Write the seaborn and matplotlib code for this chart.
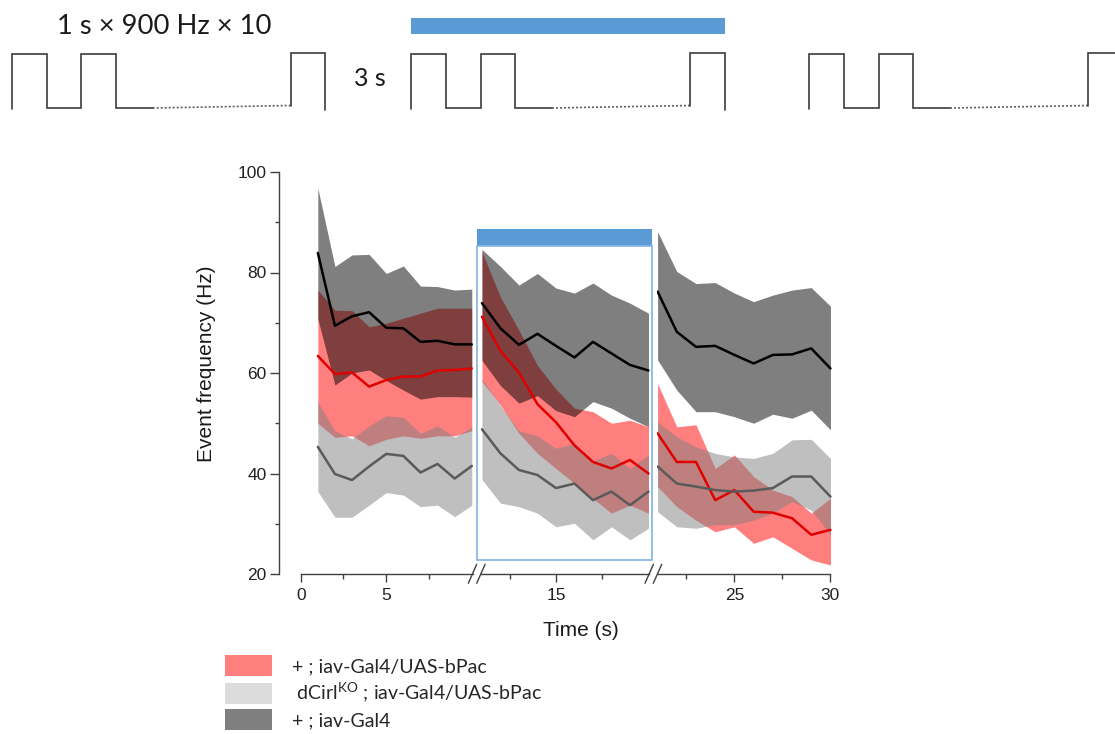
import matplotlib
matplotlib.use("Agg")
import numpy as np
import pandas as pd
import matplotlib.pyplot as plt
import seaborn as sns
from matplotlib.patches import Rectangle, Patch

# ---------------- data ----------------
time = list(range(1, 31))
segment = [0] * 10 + [1] * 10 + [2] * 10

group_names = ["+ ; iav-Gal4/UAS-bPac",
               " dCirl$^{\\mathrm{KO}}$ ; iav-Gal4/UAS-bPac",
               "+ ; iav-Gal4"]

red_mean = [63.4, 59.8, 60.1, 57.3, 58.6, 59.3, 59.3, 60.5, 60.6, 60.9,
            71.2, 64.4, 60.1, 53.8, 50.2, 45.6, 42.3, 41.0, 42.7, 40.0,
            48.0, 42.3, 42.3, 34.7, 36.7, 32.4, 32.2, 31.1, 27.8, 28.8]
red_lo = [50.0, 47.2, 47.5, 45.5, 46.8, 47.5, 47.0, 47.5, 47.5, 48.5,
          58.3, 53.6, 48.0, 44.0, 41.0, 38.0, 35.0, 32.1, 33.7, 32.1,
          37.4, 33.4, 30.7, 28.4, 29.4, 26.1, 27.4, 25.1, 22.8, 21.8]
red_hi = [76.5, 72.5, 72.4, 69.2, 69.9, 70.9, 71.9, 72.9, 72.9, 72.9,
          84.1, 75.1, 68.5, 61.5, 56.8, 53.0, 52.3, 50.0, 50.6, 49.3,
          57.9, 49.3, 49.7, 41.0, 43.7, 39.4, 36.7, 35.4, 32.1, 35.1]

ko_mean = [45.3, 39.9, 38.7, 41.4, 43.9, 43.5, 40.2, 41.9, 39.0, 41.5,
           48.8, 44.0, 40.7, 39.7, 37.1, 38.0, 34.7, 36.4, 33.7, 36.4,
           41.4, 38.0, 37.4, 36.7, 36.4, 36.6, 37.1, 39.4, 39.4, 35.4]
ko_lo = [36.4, 31.3, 31.3, 33.7, 36.2, 35.7, 33.4, 33.7, 31.4, 33.7,
         38.8, 34.1, 33.4, 32.1, 29.4, 30.1, 26.8, 29.4, 26.8, 29.1,
         32.4, 29.4, 29.1, 29.8, 29.8, 30.7, 32.1, 34.4, 32.7, 27.8]
ko_hi = [54.2, 48.5, 46.9, 49.5, 51.5, 51.2, 48.0, 49.5, 47.2, 49.3,
         58.8, 53.5, 48.5, 47.5, 45.0, 46.0, 42.5, 44.0, 41.0, 43.7,
         50.3, 47.3, 45.3, 44.0, 43.3, 43.0, 44.0, 46.7, 46.8, 43.0]

ctl_mean = [83.9, 69.4, 71.3, 72.1, 69.0, 68.9, 66.2, 66.4, 65.7, 65.7,
            73.9, 68.9, 65.6, 67.8, 65.4, 63.1, 66.2, 63.9, 61.6, 60.5,
            76.2, 68.2, 65.2, 65.4, 63.6, 61.9, 63.6, 63.7, 64.9, 60.9]
ctl_lo = [70.8, 57.6, 60.0, 60.6, 58.5, 56.6, 54.8, 55.3, 55.3, 55.2,
          62.5, 57.5, 54.0, 55.5, 52.5, 51.3, 54.3, 53.0, 51.0, 49.3,
          62.6, 56.6, 52.3, 52.3, 51.3, 50.0, 51.8, 51.0, 52.6, 48.7]
ctl_hi = [96.8, 81.2, 83.5, 83.6, 79.8, 81.3, 77.3, 77.2, 76.5, 76.7,
          84.6, 81.2, 77.5, 79.8, 76.9, 75.9, 77.9, 75.5, 73.9, 71.9,
          88.1, 80.2, 77.8, 78.0, 75.9, 74.2, 75.5, 76.5, 77.0, 73.3]

x_major = [[0, 5], [15], [25, 30]]
x_minor = [[2.5, 7.5], [12.5, 17.5], [22.5, 27.5]]
y_major = [20, 40, 60, 80, 100]
y_minor = [30, 50, 70, 90]

frames = []
for name, m, lo, hi in [(group_names[0], red_mean, red_lo, red_hi),
                        (group_names[1], ko_mean, ko_lo, ko_hi),
                        (group_names[2], ctl_mean, ctl_lo, ctl_hi)]:
    frames.append(pd.DataFrame({"time": time, "seg": segment, "group": name,
                                "mean": m, "lo": lo, "hi": hi}))
df = pd.concat(frames, ignore_index=True)

fill_colors = {group_names[0]: "#ff0000", group_names[1]: "#808080", group_names[2]: "#000000"}
line_colors = {group_names[0]: "#e00000", group_names[1]: "#5a5a5a", group_names[2]: "#000000"}
legend_colors = ["#ff7f7f", "#dcdcdc", "#7f7f7f"]

# ---------------- style ----------------
sns.set_style("ticks")
plt.rcParams["font.family"] = ["Liberation Sans", "DejaVu Sans"]
plt.rcParams["mathtext.fontset"] = "custom"
plt.rcParams["mathtext.rm"] = "Lato"
plt.rcParams["mathtext.it"] = "Lato:italic"
plt.rcParams["mathtext.bf"] = "Lato:bold"

W, H = 1115, 734
fig = plt.figure(figsize=(W / 100, H / 100), dpi=100)


def px_axes(x0, x1, y0, y1, **kw):
    return fig.add_axes([x0 / W, 1 - y1 / H, (x1 - x0) / W, (y1 - y0) / H], **kw)


ax1 = px_axes(279, 474, 172, 574)
ax2 = px_axes(479, 652, 172, 574)
ax3 = px_axes(657, 832, 172, 574)
axes = [ax1, ax2, ax3]
xlims = [(-1.27, 10.13), (10.84, 20.19), (20.97, 30.08)]
spine_bounds = [(0, 10.05), (10.94, 20.04), (21.0, 30.0)]

axis_col = "#404040"
for k, ax in enumerate(axes):
    sub = df[df["seg"] == k]
    for name in group_names:
        g = sub[sub["group"] == name]
        ax.fill_between(g["time"], g["lo"], g["hi"], color=fill_colors[name],
                        alpha=0.5, linewidth=0)
        sns.lineplot(data=g, x="time", y="mean", color=line_colors[name],
                     linewidth=1.8, ax=ax, legend=False)
    ax.set_xlim(*xlims[k])
    ax.set_ylim(20, 100)
    ax.set_xlabel("")
    ax.set_ylabel("")
    ax.patch.set_alpha(0)
    for s in ["top", "right"]:
        ax.spines[s].set_visible(False)
    ax.spines["bottom"].set_bounds(*spine_bounds[k])
    ax.spines["bottom"].set_color(axis_col)
    ax.spines["bottom"].set_linewidth(1.0)
    ax.set_xticks(x_major[k])
    ax.set_xticks(x_minor[k], minor=True)
    ax.set_xticklabels([str(v) for v in x_major[k]])
    ax.tick_params(axis="x", which="major", direction="out", length=5.8, width=1.0,
                   color=axis_col, labelsize=12.5, labelcolor="#222222", pad=4)
    ax.tick_params(axis="x", which="minor", direction="out", length=3.6, width=1.0,
                   color=axis_col)
    if k == 0:
        ax.spines["left"].set_bounds(20, 100)
        ax.spines["left"].set_color(axis_col)
        ax.spines["left"].set_linewidth(1.0)
        ax.set_yticks(y_major)
        ax.set_yticks(y_minor, minor=True)
        ax.set_yticklabels([str(v) for v in y_major])
        ax.tick_params(axis="y", which="major", direction="out", length=6.5, width=1.0,
                       color=axis_col, labelsize=12.5, labelcolor="#222222", pad=2.5)
        ax.tick_params(axis="y", which="minor", direction="out", length=3.2, width=1.0,
                       color=axis_col)
    else:
        ax.spines["left"].set_visible(False)
        ax.set_yticks([])
        ax.set_yticks([], minor=True)

fig.text(206 / W, 1 - 364 / H, "Event frequency (Hz)", rotation=90, ha="center",
         va="center", fontsize=15, color="#1a1a1a")
fig.text(581 / W, 1 - 631 / H, "Time (s)", ha="center", va="center", fontsize=15,
         color="#1a1a1a")

# ---------------- overlay (schematic, stimulus box, breaks) ----------------
ov = fig.add_axes([0, 0, 1, 1], zorder=5)
ov.set_xlim(0, W)
ov.set_ylim(H, 0)
ov.axis("off")
ov.patch.set_alpha(0)

blue = "#5b9bd5"
ov.add_patch(Rectangle((411, 17.5), 314, 16.5, facecolor=blue, edgecolor="none"))
ov.add_patch(Rectangle((476.7, 229.3), 175, 16.7, facecolor=blue, edgecolor="none"))
ov.add_patch(Rectangle((476.7, 246), 175, 314, fill=False, edgecolor="#8ab8e6", linewidth=1.3))

pulse_col = "#3c3c3c"
for x0 in [11.7, 411, 809]:
    xs = [x0, x0, x0 + 35, x0 + 35, x0 + 69.5, x0 + 69.5, x0 + 104, x0 + 104, x0 + 141]
    ys = [109, 54, 54, 108, 108, 54, 54, 108, 108]
    ov.plot(xs, ys, color=pulse_col, linewidth=1.2, solid_joinstyle="miter")
    ov.plot([x0 + 141, x0 + 279], [108, 105.5], color="#606060", linewidth=1.2,
            linestyle=(0, (1.2, 1.2)))
    xs = [x0 + 279, x0 + 279, x0 + 313.5, x0 + 313.5]
    ys = [105.5, 53, 53, 110]
    ov.plot(xs, ys, color=pulse_col, linewidth=1.2, solid_joinstyle="miter", clip_on=True)

ov.text(164, 27, "1 s × 900 Hz × 10", ha="center", va="center", fontsize=19.7,
        family=["Lato", "DejaVu Sans"], color="#1a1a1a")
ov.text(370, 79, "3 s", ha="center", va="center", fontsize=18,
        family=["Lato", "DejaVu Sans"], color="#1a1a1a")

for xa in [468.3, 476.7, 645.0, 653.3]:
    ov.plot([xa, xa + 8.4], [583.3, 564.3], color=axis_col, linewidth=1.0)

# ---------------- legend ----------------
handles = [Patch(facecolor=c, edgecolor="none") for c in legend_colors]
fs = 14
em = fs * 100 / 72
fig.legend(handles, group_names, loc="upper left",
           bbox_to_anchor=(225 / W, 1 - 655 / H), frameon=False,
           prop={"family": ["Lato", "DejaVu Sans"], "size": fs},
           handlelength=47 / em, handleheight=25 / em, handletextpad=20 / em,
           labelspacing=5 / em, borderpad=0, borderaxespad=0)

fig.savefig("out.png", dpi=100)
